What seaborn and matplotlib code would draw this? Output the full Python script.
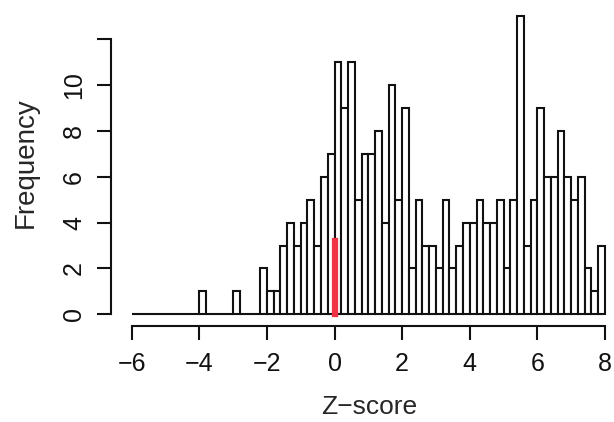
import numpy as np
import pandas as pd
import matplotlib
matplotlib.use("Agg")
import matplotlib.pyplot as plt
import seaborn as sns

# ---- data ----
bin_start = -6.0
bin_width = 0.2
counts = [0, 0, 0, 0, 0, 0, 0, 0, 0, 0,          # -6.0 .. -4.2
          1, 0, 0, 0, 0,                          # -4.0 .. -3.2
          1, 0, 0, 0,                             # -3.0 .. -2.4
          2, 1, 1, 3, 4, 3, 4, 5, 3, 6, 7,        # -2.2 .. -0.2
          11, 9, 11, 5, 7, 7, 8, 4, 10, 5,        # 0.0 .. 1.8
          9, 2, 5, 3, 3, 2, 5, 2, 3, 4,           # 2.0 .. 3.8
          4, 5, 4, 4, 5, 2, 5, 13, 3, 5,          # 4.0 .. 5.8
          9, 6, 6, 8, 6, 5, 6, 2, 1, 3]           # 6.0 .. 7.8
x_ticks = [-6, -4, -2, 0, 2, 4, 6, 8]
y_ticks = [0, 2, 4, 6, 8, 10, 12]
y_tick_labels = ["0", "2", "4", "6", "8", "10", ""]
marker_x = 0.0
marker_height = 3.2

edges = bin_start + bin_width * np.arange(len(counts) + 1)
centers = (edges[:-1] + edges[1:]) / 2
df = pd.DataFrame({"z": centers, "w": np.array(counts, dtype=float)})

sns.set_style("white")
plt.rcParams["font.family"] = ["Liberation Sans", "DejaVu Sans"]

fig = plt.figure(figsize=(6.14, 4.22), dpi=100)
ax = fig.add_axes([111 / 614, (422 - 325.5) / 422, (614 - 111) / 614, 325.5 / 422])

sns.histplot(data=df, x="z", weights="w", bins=list(edges), ax=ax,
             color="white", edgecolor="#111111", linewidth=1.5, alpha=1.0)

ax.plot([marker_x, marker_x], [0, marker_height], color="#ef3344",
        lw=4.5, solid_capstyle="projecting", zorder=5)

ax.set_xlim(-6.612, 8.266)
ax.set_ylim(-0.49, 13.72)

for s in ["top", "right"]:
    ax.spines[s].set_visible(False)
ax.spines["left"].set_bounds(0, 12)
ax.spines["bottom"].set_bounds(-6, 8)
for s in ["left", "bottom"]:
    ax.spines[s].set_linewidth(1.5)
    ax.spines[s].set_color("#111111")

ax.set_xticks(x_ticks)
ax.set_yticks(y_ticks)
ax.set_yticklabels(y_tick_labels, rotation=90, va="center")
ax.tick_params(axis="both", direction="out", length=10, width=1.5,
               labelsize=18, colors="#111111", bottom=True, left=True)
ax.tick_params(axis="x", pad=9.4)
ax.tick_params(axis="y", pad=8)

ax.set_xlabel("Z\u2212score", fontsize=19, labelpad=13)
ax.set_ylabel("Frequency", fontsize=20, labelpad=17)
ax.xaxis.label.set_x(0.513)

fig.savefig("out.png", dpi=100)
